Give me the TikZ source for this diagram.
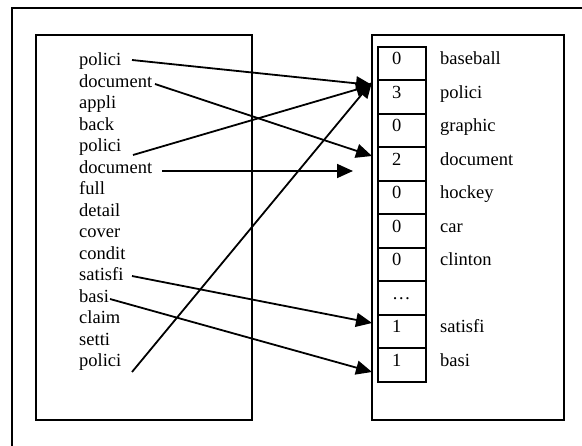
\documentclass[tikz,border=0pt]{standalone}
\usepackage{fontspec}
\setmainfont{Liberation Serif}
\usetikzlibrary{arrows.meta,calc}
\begin{document}
\begin{tikzpicture}[x=1pt,y=-1pt,
  panel/.style={draw,line width=1.8pt,inner sep=0pt,outer sep=0pt,anchor=north west},
  cell/.style={draw,line width=2pt,minimum width=48pt,minimum height=33.47pt,
    inner sep=0pt,outer sep=0pt,anchor=north west},
  word/.style={anchor=base west,inner sep=0pt,font=\fontsize{18.5}{20}\selectfont},
  link/.style={line width=1.8pt,-{Triangle[length=16pt,width=14pt]}}]
\useasboundingbox (0,0) rectangle (582,446);
\clip (0,0) rectangle (582,446);

% outer frame (runs past the page on the right and bottom)
\node[panel,minimum width=620pt,minimum height=470pt] (outer) at (12,8) {};

% document panel and vocabulary panel
\node[panel,minimum width=216pt,minimum height=385pt] (docbox) at (36,35) {};
\node[panel,minimum width=192pt,minimum height=385pt] (vocbox) at (372,35) {};

% stemmed words of the document
\foreach \w [count=\i from 0] in {polici,document,appli,back,polici,document,full,detail,cover,condit,satisfi,basi,claim,setti,polici}
  \node[word] (l\i) at (79,66+21.5*\i) {\w};

% count vector with its vocabulary terms
\foreach \n/\w [count=\i from 0] in {0/baseball,3/polici,0/graphic,2/document,0/hockey,0/car,0/clinton,…/,1/satisfi,1/basi} {
  \node[cell] (c\i) at (378,47+33.47*\i) {};
  \node[word] (n\i) at ($(c\i.north west)+(14,18)$) {\n};
  \node[word] (w\i) at ($(c\i.north west)+(62,18)$) {\w};
}

% arrow start and end points
\coordinate (s1) at (132,60);  \coordinate (t1) at (372,85);
\coordinate (s2) at (155,84);  \coordinate (t2) at (372,156);
\coordinate (s3) at (133,155); \coordinate (t3) at (372,85);
\coordinate (s4) at (162,171); \coordinate (t4) at (353,171);
\coordinate (s5) at (132,372); \coordinate (t5) at (372,82);
\coordinate (s6) at (132,276); \coordinate (t6) at (372,323);
\coordinate (s7) at (110,299); \coordinate (t7) at (372,372);

\foreach \k in {1,...,7}
  \draw[link] (s\k) -- (t\k);
\end{tikzpicture}
\end{document}
